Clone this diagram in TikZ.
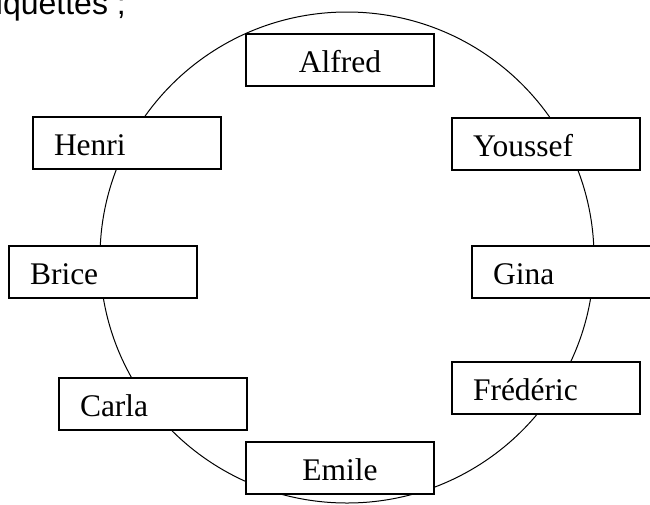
\documentclass[tikz,border=0pt]{standalone}
\usepackage{fontspec}
\setmainfont{Liberation Serif}
\newfontfamily\headfont{Liberation Sans}
\begin{document}
\begin{tikzpicture}[x=1pt,y=-1pt,
  namebox/.style={draw, line width=1.1pt, fill=white, rectangle,
    minimum width=188pt, minimum height=52pt, inner ysep=0pt,
    inner xsep=21pt, text width=146pt, text height=26pt, text depth=1pt,
    font=\fontsize{31.5}{36}\selectfont},
  leftbox/.style={namebox, align=left},
  midbox/.style={namebox, align=center}]
\useasboundingbox (0,0) rectangle (650,504);
\node[anchor=base east, inner sep=0pt, font=\headfont\fontsize{32}{36}\selectfont] (head) at (126,14) {étiquettes ;};
\draw[line width=1pt] (347,257.5) ellipse [x radius=247, y radius=245.5];
\node[midbox]  (alfred)   at (340,60)  {Alfred};
\node[leftbox] (henri)    at (127,143) {Henri};
\node[leftbox] (youssef)  at (546,144) {Youssef};
\node[leftbox] (brice)    at (103,272) {Brice};
\node[leftbox] (gina)     at (566,272) {Gina};
\node[leftbox] (carla)    at (153,404) {Carla};
\node[leftbox] (frederic) at (546,388) {Frédéric};
\node[midbox]  (emile)    at (340,468) {Emile};
\end{tikzpicture}
\end{document}
